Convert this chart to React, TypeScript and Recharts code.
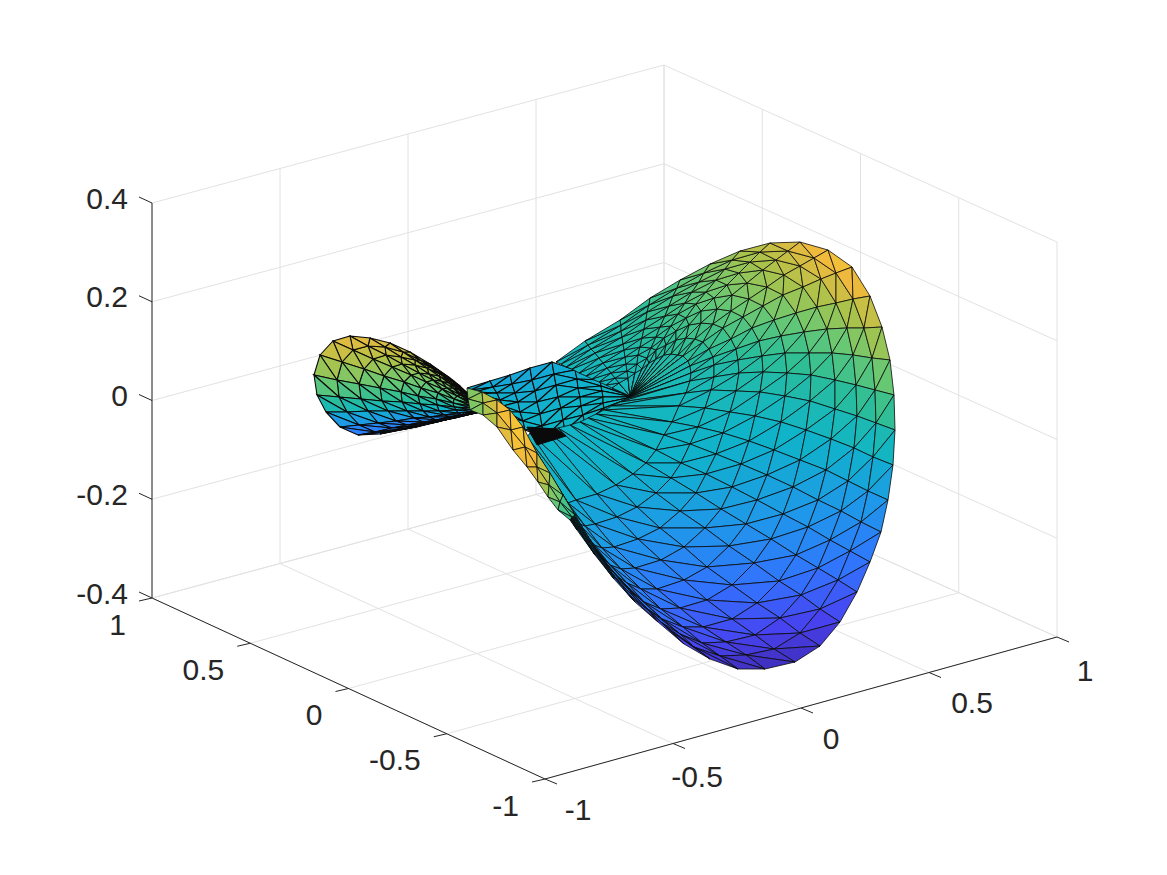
import React from "react";
import { ScatterChart, Scatter, XAxis, YAxis } from "recharts";

const zTicks = [-0.4, -0.2, 0, 0.2, 0.4];
const xyTicks = [-1, -0.5, 0, 0.5, 1];
const zLabels = ["-0.4", "-0.2", "0", "0.2", "0.4"];
const xyLabels = ["-1", "-0.5", "0", "0.5", "1"];

// label offsets from each x tick (the minus sign pushes them around)
const xLabelDx = [33, 24, 30, 43, 28];
const xLabelDy = [30, 33, 30, 30, 33];

// surface, in projected page units: one row per fan ray
const bodyX = [
  [630,612,606,599,592,586,579,572,566,561,556],
  [630,619,615,611,607,603,599,595,591,588,585],
  [630,628,627,626,625,624,623,622,621,621,620],
  [630,635,637,638,640,642,644,646,647,649,650],
  [630,642,647,651,656,660,665,669,673,677,680],
  [630,649,656,664,671,678,685,692,699,704,710],
  [630,656,666,676,686,696,706,716,725,732,740],
  [630,664,676,689,701,714,727,739,750,760,770],
  [630,671,686,701,717,732,747,763,776,788,800],
  [630,678,695,713,731,749,767,784,800,814,828],
  [630,683,703,723,743,763,783,803,821,836,852],
  [630,688,709,731,752,774,796,817,836,853,870],
  [630,690,713,736,759,781,804,827,847,864,882],
  [628,691,714,738,762,785,809,832,853,872,890],
  [626,690,714,739,763,787,811,835,856,875,894],
  [620,686,711,736,760,785,810,835,857,876,895],
  [612,679,705,730,755,781,806,831,854,873,893],
  [604,672,698,723,749,774,800,826,848,868,888],
  [596,664,690,716,741,767,793,818,841,861,881],
  [588,656,681,706,732,757,783,808,830,850,870],
  [580,646,671,696,721,746,771,796,818,838,857],
  [570,633,656,680,705,729,754,779,801,820,840],
  [558,616,637,660,684,707,732,757,780,800,820],
  [545,597,617,638,661,684,707,732,755,774,795],
  [530,576,595,614,635,657,680,703,726,746,765],
  [527,568,585,602,621,641,661,683,702,720,738],
  [530,565,579,594,610,627,644,662,680,694,710],
  [534,564,576,588,602,615,631,645,659,672,684],
  [538,563,573,582,593,604,616,628,638,649,658],
  [542,561,570,577,585,594,603,612,620,627,635],
  [547,563,569,575,581,587,593,599,605,609,614],
  [552,562,566,570,574,578,582,586,589,592,595],
  [558,563,564,566,568,569,571,573,574,576,577],
  [564,565,566,567,567,568,568,569,569,570,570],
];
const bodyY = [
  [396,388,385,382,379,376,373,369,367,364,362],
  [396,383,378,373,368,363,358,353,349,345,341],
  [396,378,371,364,357,350,344,337,331,325,320],
  [397,373,364,355,347,338,329,320,312,305,298],
  [397,369,358,348,337,327,316,306,296,288,280],
  [397,363,350,338,326,314,303,292,282,273,264],
  [397,359,345,331,318,304,292,280,269,260,251],
  [397,355,340,325,311,298,285,273,262,252,243],
  [397,354,338,323,309,295,283,270,260,251,242],
  [397,355,339,324,311,299,287,275,266,258,250],
  [397,356,342,328,317,306,295,287,279,273,267],
  [397,361,349,339,328,320,313,307,303,299,296],
  [397,366,357,349,341,336,332,329,328,328,327],
  [398,373,365,360,356,353,353,353,355,358,360],
  [399,381,377,373,372,373,375,380,385,390,395],
  [402,393,390,391,392,396,401,409,416,423,430],
  [406,406,408,412,416,422,430,439,448,457,465],
  [410,422,427,433,441,450,460,470,481,491,500],
  [414,435,444,454,464,475,487,500,511,522,532],
  [418,450,463,474,487,500,514,527,540,551,562],
  [422,463,478,493,509,524,539,555,568,580,592],
  [425,474,493,511,528,546,563,581,595,609,622],
  [428,485,507,528,547,567,585,603,618,633,646],
  [430,494,517,539,560,580,600,619,635,649,662],
  [433,500,524,547,568,589,608,627,642,655,669],
  [437,503,526,548,569,589,609,627,643,656,669],
  [442,502,524,545,565,583,602,619,634,647,659],
  [449,502,521,540,557,575,591,607,621,632,644],
  [455,499,515,531,546,561,575,589,602,611,622],
  [461,498,511,524,537,550,561,574,584,593,602],
  [469,495,505,515,525,535,545,555,564,571,579],
  [477,496,503,510,517,524,531,538,544,550,555],
  [487,497,501,505,509,513,517,521,524,527,530],
  [497,503,505,507,509,511,513,515,517,519,520],
];
const bodyLevel = [
  [42,42,42,42,42,42,42,42,42,41,41],
  [42,43,43,43,43,43,44,44,44,44,44],
  [42,43,44,44,45,45,46,46,47,47,48],
  [42,44,45,46,47,48,49,50,50,51,52],
  [42,45,46,48,49,51,52,54,55,56,58],
  [42,46,48,50,52,54,56,58,60,62,64],
  [42,47,49,52,54,57,60,62,65,67,70],
  [42,48,51,54,57,60,63,66,69,72,75],
  [42,49,52,55,58,62,65,69,72,75,79],
  [42,49,52,56,59,63,67,71,75,79,83],
  [42,49,52,55,59,63,67,71,75,80,84],
  [42,47,50,53,56,59,63,67,71,75,79],
  [42,46,48,50,53,55,58,62,65,69,73],
  [42,45,46,47,49,51,53,56,59,62,66],
  [42,44,45,46,47,48,49,50,52,55,58],
  [42,43,43,44,44,44,45,45,46,46,47],
  [42,42,42,42,41,41,41,40,40,39,38],
  [42,41,41,40,39,38,37,36,34,33,31],
  [42,40,40,39,37,35,34,32,30,27,25],
  [42,40,39,37,35,33,31,28,26,23,20],
  [42,39,37,35,32,30,27,24,21,18,15],
  [42,38,36,33,30,27,23,20,16,12,9],
  [42,37,34,31,27,24,20,16,12,8,5],
  [42,36,33,30,26,22,18,14,10,6,3],
  [43,37,34,30,26,22,18,14,10,6,2],
  [44,38,35,31,28,24,20,16,11,7,3],
  [45,39,36,33,30,26,22,18,14,10,6],
  [46,40,37,34,31,28,24,20,16,13,9],
  [47,41,38,35,32,29,26,23,19,16,13],
  [48,42,40,37,34,31,29,26,23,20,18],
  [49,44,42,39,37,34,32,30,28,26,24],
  [50,46,45,43,42,40,38,37,35,34,32],
  [52,50,49,48,47,46,45,44,43,43,42],
  [53,52,51,51,50,50,50,49,49,48,48],
];

const earX = [
  [488,484,480,477,473,469,464,460,455,450],
  [488,482,476,471,465,459,452,445,438,430],
  [488,480,472,465,457,449,440,430,420,410],
  [488,478,468,459,449,439,427,415,403,390],
  [488,476,464,453,441,429,415,401,385,370],
  [488,474,460,447,433,419,402,386,368,350],
  [488,473,457,442,426,411,392,373,353,333],
  [488,471,454,438,421,404,384,364,342,320],
  [488,471,453,436,418,401,380,359,337,314],
  [488,471,454,437,420,402,382,361,339,317],
  [488,472,456,439,423,407,388,368,347,326],
  [488,473,458,444,429,414,396,378,359,340],
  [488,475,462,449,436,423,407,392,375,358],
  [488,477,466,456,445,434,421,408,394,380],
  [488,480,471,463,455,446,437,427,416,405],
  [488,482,476,471,465,459,452,445,438,430],
  [488,485,481,478,475,472,468,464,459,455],
];
const earY = [
  [410,407,404,400,397,394,390,386,382,378],
  [410,405,401,396,392,387,381,376,370,364],
  [410,404,398,393,387,381,374,367,360,352],
  [410,403,397,390,383,376,368,360,352,343],
  [410,403,396,388,381,374,365,357,347,338],
  [410,403,395,388,380,373,364,355,346,336],
  [410,403,396,389,382,375,367,359,350,341],
  [410,404,399,393,388,382,376,369,362,355],
  [410,406,403,399,396,392,388,384,380,375],
  [410,408,407,405,404,402,401,399,397,395],
  [410,410,410,411,411,411,411,411,412,412],
  [410,412,413,415,417,418,421,423,425,427],
  [410,412,415,417,420,422,425,428,432,435],
  [410,412,415,417,420,422,425,428,431,434],
  [410,412,414,416,418,419,422,424,427,429],
  [410,411,413,414,415,416,418,420,421,423],
  [410,411,411,412,412,413,414,414,415,416],
];
const earLevel = [
  [66,66,66,67,68,69,70,70,71,72],
  [66,66,65,66,67,68,69,70,71,72],
  [66,64,63,64,66,67,69,71,73,74],
  [66,64,62,63,65,67,70,72,75,76],
  [66,63,61,62,64,67,70,73,76,78],
  [66,62,60,61,63,66,69,73,76,79],
  [64,60,58,59,61,64,67,71,75,78],
  [62,58,56,56,58,60,63,67,71,74],
  [58,54,50,50,52,54,56,59,62,65],
  [52,48,44,44,45,46,48,50,52,54],
  [44,40,38,38,38,39,40,40,40,40],
  [36,34,32,31,30,28,28,28,28,26],
  [30,28,26,25,24,24,23,23,22,22],
  [28,26,24,24,23,23,22,22,22,22],
  [28,26,25,25,24,24,23,23,23,22],
  [30,28,27,26,25,25,24,24,23,23],
  [32,30,29,28,27,27,26,26,25,25],
];

const backX = [
  [467,471,475,478,482,486,490],
  [490,493,497,500,503,507,510],
  [510,512,515,518,520,523,525],
  [530,532,535,537,540,542,545],
  [552,554,556,558,561,563,565],
  [575,577,578,580,581,583,585],
  [600,601,602,603,603,604,605],
  [633,633,633,633,633,633,633],
];
const backY = [
  [388,390,392,394,396,398,400],
  [381,387,393,400,406,412,418],
  [375,384,393,402,412,421,430],
  [368,380,391,402,414,426,437],
  [362,374,385,397,408,420,431],
  [370,379,388,397,406,415,424],
  [380,386,391,397,403,408,414],
  [397,397,397,397,397,397,397],
];
const backLevel = [
  [38,38,39,40,41,41,42],
  [36,37,38,39,40,40,41],
  [35,36,37,38,39,40,41],
  [35,36,37,38,39,40,41],
  [36,37,38,39,40,40,41],
  [38,38,39,40,40,41,41],
  [40,40,40,41,41,41,42],
  [42,42,42,42,42,42,42],
];

const ridgeX = [
  [467,482,497,510,523,537,550,563,575],
  [468,483,497,511,525,537,549,560,572],
  [470,483,497,513,527,538,548,558,570],
];
const ridgeY = [
  [388,392,400,410,427,453,473,495,515],
  [399,403,413,430,447,467,485,502,517],
  [410,415,427,450,467,482,497,510,520],
];
const ridgeLevel = [
  [62,68,80,84,84,76,66,56,48],
  [62,68,78,84,86,78,68,58,50],
  [60,64,72,78,80,74,64,56,48],
];

// the crease behind the ridge reads as solid black in the picture
const creaseX = [527, 557, 566, 537, 527];
const creaseY = [427, 429, 436, 445, 427];

const parula = [
  [62, 38, 168],
  [71, 67, 240],
  [50, 115, 254],
  [32, 150, 235],
  [15, 180, 200],
  [45, 190, 150],
  [105, 200, 115],
  [170, 195, 75],
  [240, 185, 60],
  [250, 210, 45],
  [249, 251, 21],
];

function levelColor(level: number) {
  const pos = Math.min(9.999, Math.max(0, level / 10));
  const i = Math.floor(pos);
  const f = pos - i;
  const c = parula[i].map((v, k) => Math.round(v + (parula[i + 1][k] - v) * f));
  return `rgb(${c[0]},${c[1]},${c[2]})`;
}

// axes box: corners as measured on the page, z goes straight up
function project(x: number, y: number, z: number) {
  const u = (x + 1) / 2;
  const v = (y + 1) / 2;
  const px = 545 + 512 * u - 393 * v;
  const py = 779 - 142 * u - 181 * v + 4 * u * v;
  return { x: px, y: py - ((z + 0.4) / 0.8) * 395 };
}

type Tri = { points: { x: number; y: number }[]; fill: string; width: number };

function trianglesOf(xs: number[][], ys: number[][], levels: number[][], width: number) {
  const out: Tri[] = [];
  for (let i = 0; i < xs.length - 1; i++) {
    for (let j = 0; j < xs[i].length - 1; j++) {
      const p = (a: number, b: number) => ({ x: xs[a][b], y: ys[a][b] });
      const a = levels[i][j] + levels[i + 1][j] + levels[i][j + 1];
      const b = levels[i + 1][j + 1] + levels[i + 1][j] + levels[i][j + 1];
      out.push({
        points: [p(i, j), p(i + 1, j), p(i, j + 1), p(i, j)],
        fill: levelColor(a / 3),
        width,
      });
      out.push({
        points: [p(i + 1, j + 1), p(i + 1, j), p(i, j + 1), p(i + 1, j + 1)],
        fill: levelColor(b / 3),
        width,
      });
    }
  }
  return out;
}

const GRID = "#e2e2e2";
const AXIS = "#262626";

const gridLines: { x: number; y: number }[][] = [];
xyTicks.forEach((t) => {
  gridLines.push([project(t, -1, -0.4), project(t, 1, -0.4)]);
  gridLines.push([project(-1, t, -0.4), project(1, t, -0.4)]);
  gridLines.push([project(t, 1, -0.4), project(t, 1, 0.4)]);
  gridLines.push([project(1, t, -0.4), project(1, t, 0.4)]);
});
zTicks.forEach((t) => {
  gridLines.push([project(-1, 1, t), project(1, 1, t)]);
  gridLines.push([project(1, 1, t), project(1, -1, t)]);
});

const axisLines: { x: number; y: number }[][] = [
  [project(-1, 1, -0.4), project(-1, 1, 0.4)],
  [project(-1, 1, -0.4), project(-1, -1, -0.4)],
  [project(-1, -1, -0.4), project(1, -1, -0.4)],
];
const shift = (p: { x: number; y: number }, dx: number, dy: number) => ({ x: p.x + dx, y: p.y + dy });
zTicks.forEach((t) => {
  const p = project(-1, 1, t);
  axisLines.push([p, shift(p, -13, -6)]);
});
xyTicks.forEach((t) => {
  const py = project(-1, t, -0.4);
  axisLines.push([py, shift(py, -13, 3)]);
  const px = project(t, -1, -0.4);
  axisLines.push([px, shift(px, 12, 5)]);
});

const labelData = [
  ...zTicks.map((t, i) => ({ ...shift(project(-1, 1, t), -24, -5), label: zLabels[i], anchor: "end" })),
  ...xyTicks.map((t, i) => ({ ...shift(project(-1, t, -0.4), -26, 26), label: xyLabels[i], anchor: "end" })),
  ...xyTicks.map((t, i) => ({
    ...shift(project(t, -1, -0.4), xLabelDx[i], xLabelDy[i]),
    label: xyLabels[i],
    anchor: "middle",
  })),
];

const surface = [
  ...trianglesOf(backX, backY, backLevel, 1.1),
  ...trianglesOf(earX, earY, earLevel, 1.1),
  ...trianglesOf(bodyX, bodyY, bodyLevel, 0.8),
];
const ridge = trianglesOf(ridgeX, ridgeY, ridgeLevel, 0.8);
const crease = creaseX.map((x, i) => ({ x, y: creaseY[i] }));

const noDot = () => null;

export default function App() {
  return (
    <div style={{ position: "absolute", left: 0, top: 0, background: "#fff" }}>
      <ScatterChart width={1167} height={875} margin={{ top: 0, right: 0, bottom: 0, left: 0 }}>
        <XAxis type="number" dataKey="x" domain={[0, 1167]} hide />
        <YAxis type="number" dataKey="y" domain={[0, 875]} reversed hide />
        {gridLines.map((pts, i) => (
          <Scatter key={`g${i}`} data={pts} shape={noDot} line={{ stroke: GRID, strokeWidth: 1 }} isAnimationActive={false} />
        ))}
        {axisLines.map((pts, i) => (
          <Scatter key={`a${i}`} data={pts} shape={noDot} line={{ stroke: AXIS, strokeWidth: 1 }} isAnimationActive={false} />
        ))}
        {surface.map((t, i) => (
          <Scatter
            key={`s${i}`}
            data={t.points}
            shape={noDot}
            line={{ fill: t.fill, stroke: "#0a0a0a", strokeWidth: t.width }}
            isAnimationActive={false}
          />
        ))}
        <Scatter data={crease} shape={noDot} line={{ fill: "#0a0a0a", stroke: "#0a0a0a" }} isAnimationActive={false} />
        {ridge.map((t, i) => (
          <Scatter
            key={`r${i}`}
            data={t.points}
            shape={noDot}
            line={{ fill: t.fill, stroke: "#0a0a0a", strokeWidth: t.width }}
            isAnimationActive={false}
          />
        ))}
        <Scatter
          data={labelData}
          isAnimationActive={false}
          shape={(p: any) => (
            <text
              x={p.cx}
              y={p.cy}
              textAnchor={p.payload.anchor}
              dominantBaseline="central"
              fontFamily="'Liberation Sans', Arial, sans-serif"
              fontSize={30}
              fill={AXIS}
            >
              {p.payload.label}
            </text>
          )}
        />
      </ScatterChart>
    </div>
  );
}
